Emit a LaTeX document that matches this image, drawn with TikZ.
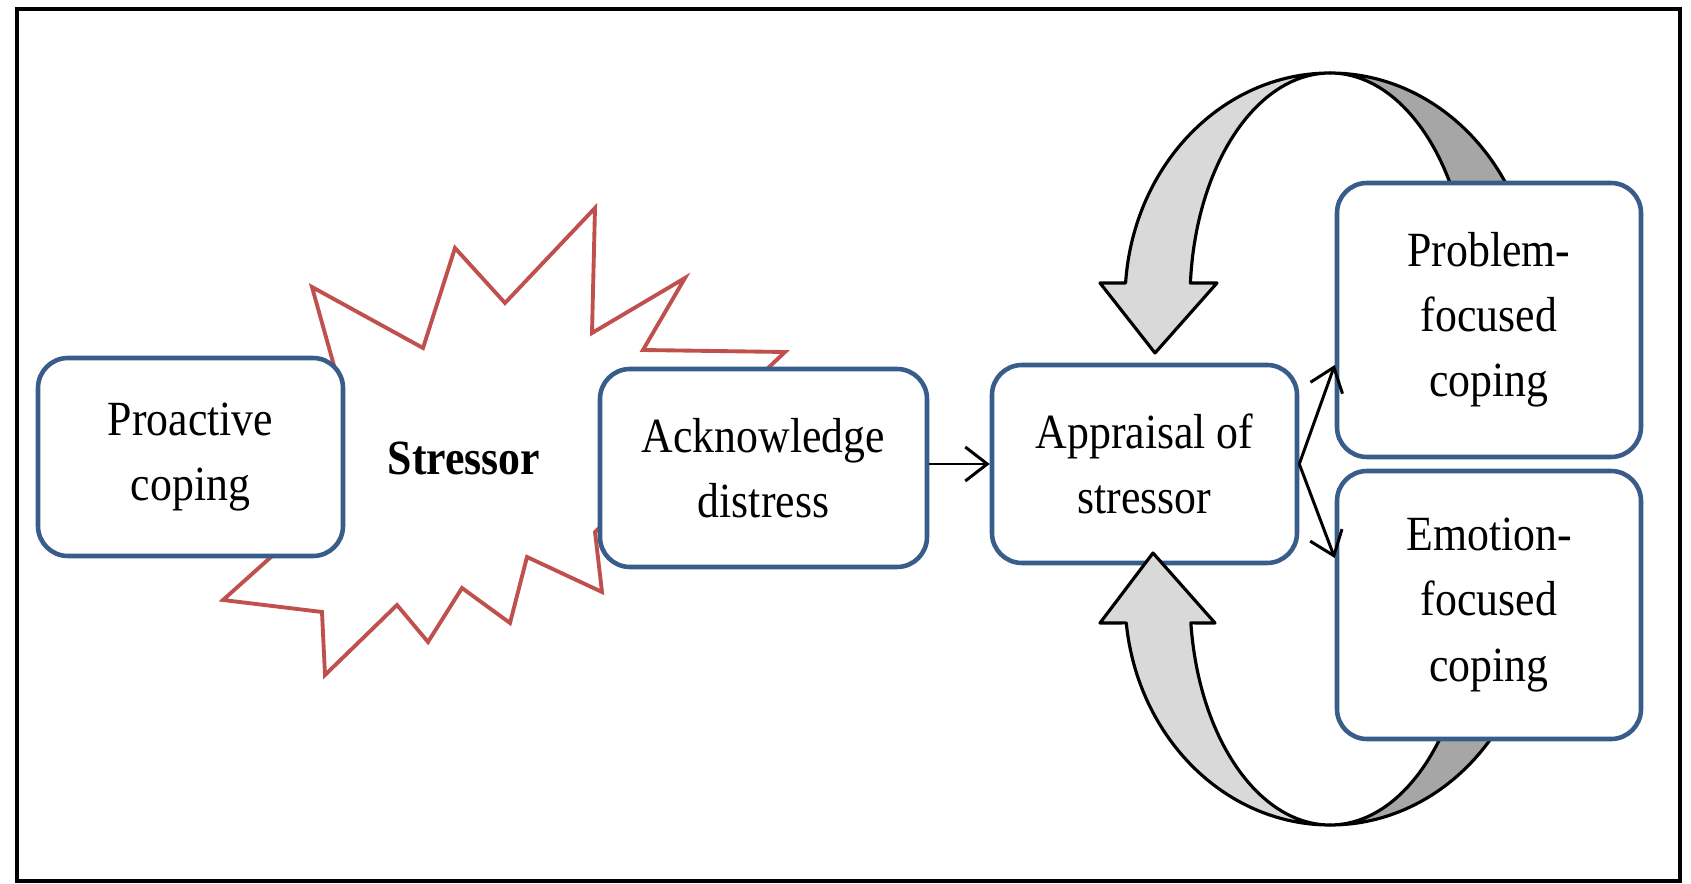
\documentclass[tikz,border=0pt]{standalone}
\usepackage{fontspec}
\setmainfont[FakeStretch=0.89]{Liberation Serif}
\usepackage{tikz}
\usetikzlibrary{arrows.meta,calc}

\definecolor{boxblue}{RGB}{56,93,138}
\definecolor{starred}{RGB}{192,80,77}
\definecolor{ribbonlight}{RGB}{217,217,217}
\definecolor{ribbondark}{RGB}{166,166,166}

\tikzset{
	copebox/.style={draw=boxblue, line width=1.3pt, fill=white, rounded corners=0.3cm, align=center, inner sep=0pt, font=\fontsize{14}{18.5}\selectfont},
	ribbon/.style={draw=black, line width=0.9pt, line join=round},
	link/.style={line width=0.85pt, -{Straight Barb[length=2.2mm,width=3.4mm]}},
}

\begin{document}
\begin{tikzpicture}
		\useasboundingbox (0,0) rectangle (16.91,-8.84);
		\draw [line width=1.4pt] (0.17,-0.09) rectangle (16.80,-8.81); % frame
		% stressor burst
		\draw [starred, line width=1.1pt, fill=white] (3.12,-2.87) -- (4.23,-3.48) -- (4.55,-2.48) -- (5.05,-3.03) -- (5.95,-2.08) -- (5.92,-3.33) -- (6.85,-2.78) -- (6.43,-3.50) -- (7.85,-3.52) -- (5.95,-5.32) -- (6.02,-5.92) -- (5.27,-5.57) -- (5.10,-6.23) -- (4.62,-5.88) -- (4.28,-6.42) -- (3.97,-6.05) -- (3.25,-6.75) -- (3.22,-6.12) -- (2.23,-6.00) -- (2.90,-5.40) -- (3.38,-3.80) -- cycle;
		\node [font=\bfseries\fontsize{14}{18.5}\selectfont] (stressor) at (4.64,-4.58) {Stressor};
		% back of the two ribbons
		\coordinate (ctop) at (13.30,-3.00);
		\coordinate (cbot) at (13.30,-5.98);
		\draw [ribbon, fill=ribbondark] ($(ctop)+(90:2.05 and 2.27)$) arc [start angle=90, end angle=0, x radius=2.05, y radius=2.27] -- ($(ctop)+(0:1.40 and 2.27)$) arc [start angle=0, end angle=90, x radius=1.40, y radius=2.27] -- cycle;
		\draw [ribbon, fill=ribbondark] ($(cbot)+(270:2.05 and 2.27)$) arc [start angle=270, end angle=360, x radius=2.05, y radius=2.27] -- ($(cbot)+(0:1.40 and 2.27)$) arc [start angle=360, end angle=270, x radius=1.40, y radius=2.27] -- cycle;
		% boxes
		\node [copebox, minimum width=3.05cm, minimum height=1.98cm] (proactive) at (1.905,-4.57) {Proactive\\coping};
		\node [copebox, minimum width=3.27cm, minimum height=1.98cm] (acknowledge) at (7.635,-4.68) {Acknowledge\\distress};
		\node [copebox, minimum width=3.05cm, minimum height=1.98cm] (appraisal) at (11.445,-4.64) {Appraisal of\\stressor};
		\node [copebox, minimum width=3.04cm, minimum height=2.74cm] (problem) at (14.89,-3.20) {Problem-\\focused\\coping};
		\node [copebox, minimum width=3.04cm, minimum height=2.68cm] (emotion) at (14.89,-6.05) {Emotion-\\focused\\coping};
		% front of the two ribbons
		\draw [ribbon, fill=ribbonlight] ($(ctop)+(90:2.05 and 2.27)$) arc [start angle=90, end angle=175.7, x radius=2.05, y radius=2.27] -- (11.00,-2.83) -- (11.55,-3.53) -- (12.17,-2.83) -- ($(ctop)+(175.7:1.40 and 2.27)$) arc [start angle=175.7, end angle=90, x radius=1.40, y radius=2.27] -- cycle;
		\draw [ribbon, fill=ribbonlight] ($(cbot)+(270:2.05 and 2.27)$) arc [start angle=270, end angle=186.3, x radius=2.05, y radius=2.27] -- (11.00,-6.23) -- (11.53,-5.53) -- (12.15,-6.23) -- ($(cbot)+(186.3:1.40 and 2.27)$) arc [start angle=186.3, end angle=270, x radius=1.40, y radius=2.27] -- cycle;
		% links
		\draw [link] (acknowledge.east |- appraisal.west) to (appraisal.west);
		\draw [link] (appraisal.east) to ([yshift=-0.45cm]problem.west);
		\draw [link] (appraisal.east) to ([yshift=0.47cm]emotion.west);
\end{tikzpicture}
\end{document}
